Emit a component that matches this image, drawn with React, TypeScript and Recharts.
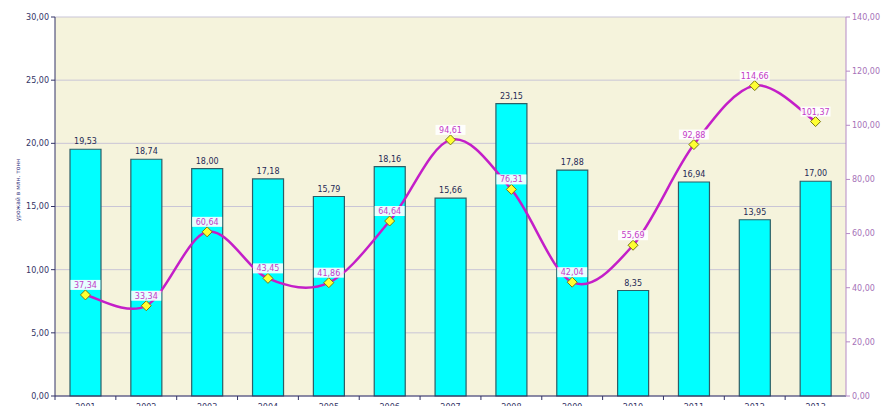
import React from 'react';
import {
  ComposedChart,
  Bar,
  Line,
  XAxis,
  YAxis,
  CartesianGrid,
  LabelList,
  Label,
} from 'recharts';

const years = ['2001', '2002', '2003', '2004', '2005', '2006', '2007', '2008', '2009', '2010', '2011', '2012', '2013'];
// урожай, млн. тонн (bars, left axis)
const harvest = [19.53, 18.74, 18.0, 17.18, 15.79, 18.16, 15.66, 23.15, 17.88, 8.35, 16.94, 13.95, 17.0];
// line, right axis
const price = [37.34, 33.34, 60.64, 43.45, 41.86, 64.64, 94.61, 76.31, 42.04, 55.69, 92.88, 114.66, 101.37];
const leftTicks = [0, 5, 10, 15, 20, 25, 30];
const rightTicks = [0, 20, 40, 60, 80, 100, 120, 140];

const data = years.map((year, i) => ({ year, harvest: harvest[i], price: price[i] }));

const W = 891;
const H = 428;
const LEFT_W = 55;
const RIGHT_W = 45;
const HALF_BAND = (W - LEFT_W - RIGHT_W) / years.length / 2;

const FONT = '"DejaVu Sans", Verdana, sans-serif';
const fmt = (v: number) => v.toFixed(2).replace('.', ',');

// Catmull-Rom style smoothing, closer to the spreadsheet "smoothed line" look
const smoothCurve = (context: any) => {
  let pts: [number, number][] = [];
  return {
    areaStart() {},
    areaEnd() {},
    lineStart() {
      pts = [];
    },
    lineEnd() {
      if (!pts.length) return;
      context.moveTo(pts[0][0], pts[0][1]);
      for (let i = 0; i < pts.length - 1; i++) {
        const p0 = pts[i - 1] || pts[i];
        const p1 = pts[i];
        const p2 = pts[i + 1];
        const p3 = pts[i + 2] || p2;
        context.bezierCurveTo(
          p1[0] + (p2[0] - p0[0]) / 6,
          p1[1] + (p2[1] - p0[1]) / 6,
          p2[0] - (p3[0] - p1[0]) / 6,
          p2[1] - (p3[1] - p1[1]) / 6,
          p2[0],
          p2[1]
        );
      }
    },
    point(x: number, y: number) {
      pts.push([x, y]);
    },
  };
};

const Diamond = (props: any) => {
  const { cx, cy } = props;
  if (cx == null || cy == null) return null;
  return (
    <path
      d={`M${cx},${cy - 5}L${cx + 5},${cy}L${cx},${cy + 5}L${cx - 5},${cy}Z`}
      fill="#ffff33"
      stroke="#7a7a10"
      strokeWidth={1}
    />
  );
};

const PriceLabel = (props: any) => {
  const { x, y, value } = props;
  if (x == null || y == null) return null;
  return (
    <g>
      <rect x={x - 15} y={y - 15} width={30} height={10} fill="#ffffff" opacity={0.9} />
      <text x={x} y={y - 7} textAnchor="middle" fontSize={8} fontFamily={FONT} fill="#c43cc8">
        {fmt(value)}
      </text>
    </g>
  );
};

const YearTick = (props: any) => {
  const { x, y, payload } = props;
  const bx = x - HALF_BAND;
  return (
    <g>
      <line x1={bx} y1={y - 8} x2={bx} y2={y - 4} stroke="#333366" />
      <text x={x} y={y + 6} textAnchor="middle" fontSize={8} fontFamily={FONT} fill="#333366">
        {payload.value}
      </text>
    </g>
  );
};

const AxisTitle = () => (
  <text
    x={17}
    y={190}
    transform="rotate(-90, 17, 190)"
    textAnchor="middle"
    dominantBaseline="central"
    fontSize={6}
    fontFamily={FONT}
    fill="#333380"
  >
    урожай в млн. тонн
  </text>
);

export default function App() {
  return (
    <div style={{ position: 'absolute', left: 0, top: 0, width: W, height: H, background: '#fff' }}>
      <ComposedChart
        width={W}
        height={H}
        data={data}
        margin={{ top: 17, right: 0, bottom: 0, left: 0 }}
      >
        <CartesianGrid vertical={false} stroke="#c9c5d6" fill="#f5f3dc" yAxisId="left" />
        <XAxis
          dataKey="year"
          height={32}
          tickLine={false}
          axisLine={{ stroke: '#333366' }}
          tick={<YearTick />}
          interval={0}
        />
        <YAxis
          yAxisId="left"
          width={LEFT_W}
          domain={[0, 30]}
          ticks={leftTicks}
          tickFormatter={fmt}
          axisLine={{ stroke: '#333366' }}
          tickLine={{ stroke: '#333366' }}
          tickSize={4}
          tick={{ fontSize: 8, fill: '#333366', fontFamily: FONT }}
        >
          <Label content={<AxisTitle />} />
        </YAxis>
        <YAxis
          yAxisId="right"
          orientation="right"
          width={RIGHT_W}
          domain={[0, 140]}
          ticks={rightTicks}
          tickFormatter={fmt}
          axisLine={{ stroke: '#b58ac6' }}
          tickLine={{ stroke: '#b58ac6' }}
          tickSize={4}
          tick={{ fontSize: 8, fill: '#a672b8', fontFamily: FONT }}
        />
        <Bar
          yAxisId="left"
          dataKey="harvest"
          barSize={31}
          fill="#00ffff"
          stroke="#2d5e66"
          strokeWidth={1.2}
          isAnimationActive={false}
        >
          <LabelList
            dataKey="harvest"
            position="top"
            offset={5}
            formatter={(v: any) => fmt(Number(v))}
            style={{ fontSize: 8, fill: '#1f2a55', fontFamily: FONT }}
          />
        </Bar>
        <Line
          yAxisId="right"
          dataKey="price"
          type={smoothCurve as any}
          stroke="#c41ec8"
          strokeWidth={2.5}
          dot={<Diamond />}
          activeDot={false}
          isAnimationActive={false}
        >
          <LabelList dataKey="price" content={<PriceLabel />} />
        </Line>
      </ComposedChart>
    </div>
  );
}
